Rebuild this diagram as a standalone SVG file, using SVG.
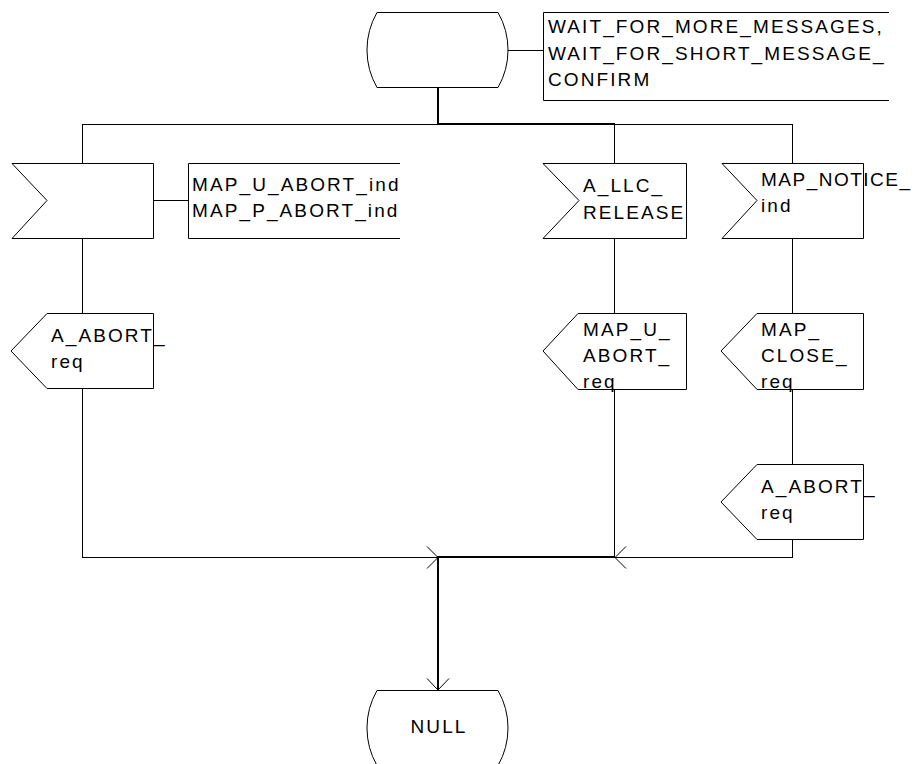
<svg xmlns="http://www.w3.org/2000/svg" width="916" height="764" viewBox="0 0 916 764">
<style>
.s{fill:#fff;stroke:#000;stroke-width:1}
.c{fill:none;stroke:#000;stroke-width:1}
.t{fill:none;stroke:#000;stroke-width:2}
text{font-family:"Liberation Sans",Arial,sans-serif;font-size:19px;letter-spacing:2.1px;fill:#000}
</style>
<rect width="916" height="764" fill="#fff"/>
<g id="connectors">
<line class="c" x1="508" y1="50.5" x2="543" y2="50.5"/>
<line class="c" x1="153" y1="200.5" x2="188" y2="200.5"/>
<line class="t" x1="438" y1="87" x2="438" y2="125"/>
<line class="c" x1="82.5" y1="124.5" x2="438" y2="124.5"/>
<line class="t" x1="437" y1="124" x2="615" y2="124"/>
<line class="c" x1="614" y1="124.5" x2="792.5" y2="124.5"/>
<line class="c" x1="82.5" y1="124" x2="82.5" y2="163"/>
<line class="c" x1="614.5" y1="124" x2="614.5" y2="163"/>
<line class="c" x1="792.5" y1="124" x2="792.5" y2="163"/>
<line class="c" x1="82.5" y1="238" x2="82.5" y2="313"/>
<line class="c" x1="614.5" y1="238" x2="614.5" y2="313"/>
<line class="c" x1="792.5" y1="238" x2="792.5" y2="313"/>
<line class="c" x1="82.5" y1="388" x2="82.5" y2="557.5"/>
<line class="c" x1="614.5" y1="389" x2="614.5" y2="557"/>
<line class="c" x1="792.5" y1="389" x2="792.5" y2="464"/>
<line class="c" x1="792.5" y1="539" x2="792.5" y2="557.5"/>
<line class="c" x1="82" y1="557.5" x2="438" y2="557.5"/>
<line class="t" x1="437" y1="557" x2="615" y2="557"/>
<line class="c" x1="614" y1="557.5" x2="793" y2="557.5"/>
<polyline class="c" points="427,546.5 438,557.5 427,568.5"/>
<polyline class="c" points="626,546.5 615,557.5 626,568.5"/>
<line class="t" x1="438" y1="556" x2="438" y2="690"/>
<polyline class="c" points="427,678.5 438,690 449,678.5"/>
</g>
<g id="state-wait">
<path class="s" d="M377,12.5 H498 A75.3,75.3 0 0 1 498,87.5 H377 A75.3,75.3 0 0 1 377,12.5 Z"/>
</g>
<g id="comment-wait">
<polyline class="c" points="889,12.5 543.5,12.5 543.5,100.5 889,100.5"/>
<text x="548" y="33">WAIT_FOR_MORE_MESSAGES,</text>
<text x="548" y="59.5">WAIT_FOR_SHORT_MESSAGE_</text>
<text x="548" y="86">CONFIRM</text>
</g>
<g id="input-abort-ind">
<polygon class="s" points="12,163.5 153.5,163.5 153.5,238.5 12,238.5 47,200.5"/>
</g>
<g id="comment-abort-ind">
<polyline class="c" points="400,163.5 188.5,163.5 188.5,238.5 400,238.5"/>
<text x="192" y="191">MAP_U_ABORT_ind</text>
<text x="192" y="217">MAP_P_ABORT_ind</text>
</g>
<g id="input-llc-release">
<polygon class="s" points="543,163.5 686.5,163.5 686.5,238.5 543,238.5 579,200.5"/>
<text x="583" y="192">A_LLC_</text>
<text x="583" y="219">RELEASE</text>
</g>
<g id="input-notice">
<polygon class="s" points="722,163.5 863.5,163.5 863.5,238.5 722,238.5 757,200.5"/>
<text x="761" y="186" style="letter-spacing:1.5px">MAP_NOTICE_</text>
<text x="761" y="212">ind</text>
</g>
<g id="output-abort-1">
<polygon class="s" points="47,313.5 153.5,313.5 153.5,388.5 47,388.5 11,351"/>
<text x="51" y="342">A_ABORT_</text>
<text x="51" y="368">req</text>
</g>
<g id="output-u-abort">
<polygon class="s" points="578,313.5 686.5,313.5 686.5,389.5 578,389.5 543,351"/>
<text x="583" y="336">MAP_U_</text>
<text x="583" y="362">ABORT_</text>
<text x="583" y="388">req</text>
</g>
<g id="output-close">
<polygon class="s" points="757,313.5 863.5,313.5 863.5,389.5 757,389.5 721,351"/>
<text x="761" y="336">MAP_</text>
<text x="761" y="362">CLOSE_</text>
<text x="761" y="388">req</text>
</g>
<g id="output-abort-2">
<polygon class="s" points="757,464.5 863.5,464.5 863.5,539.5 757,539.5 721,502"/>
<text x="761" y="493">A_ABORT_</text>
<text x="761" y="519">req</text>
</g>
<g id="state-null">
<path class="s" d="M377,690.5 H498 A75.3,75.3 0 0 1 498,765.5 H377 A75.3,75.3 0 0 1 377,690.5 Z"/>
<text x="439" y="733" text-anchor="middle">NULL</text>
</g>
</svg>
